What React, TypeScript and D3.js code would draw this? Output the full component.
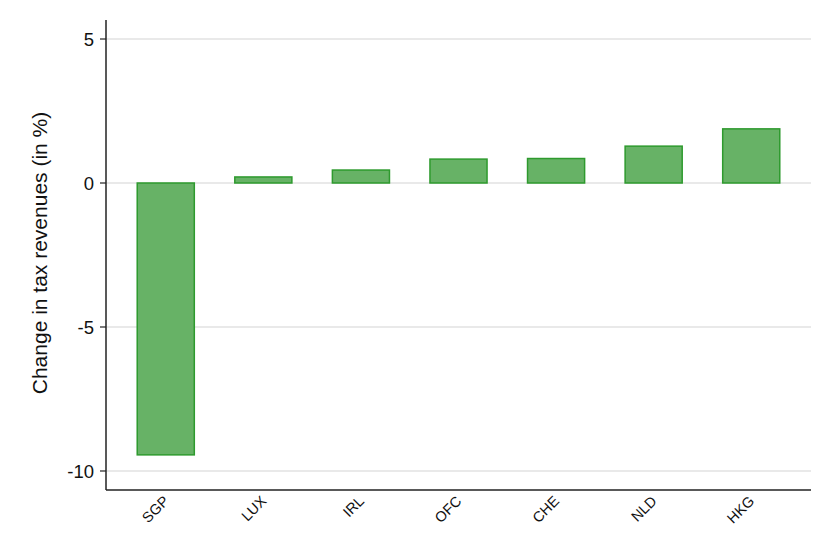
import React from 'react';
import * as d3 from 'd3';

const countries = ['SGP', 'LUX', 'IRL', 'OFC', 'CHE', 'NLD', 'HKG'];
const changes = [-9.44, 0.21, 0.45, 0.83, 0.85, 1.28, 1.88];
const yTicks = [5, 0, -5, -10];

export default function App() {
  const width = 830;
  const height = 554;
  const left = 106;
  const right = 811;
  const top = 20;
  const bottom = 490;

  const x = d3.scaleBand<string>()
    .domain(countries)
    .range([left, right])
    .paddingInner(0.415)
    .paddingOuter(0.32);

  const y = d3.scaleLinear()
    .domain([-10.66, 5.66])
    .range([bottom, top]);

  const font = '"Liberation Sans", Arial, Helvetica, sans-serif';

  return (
    <svg width={width} height={height} style={{ position: 'absolute', left: 0, top: 0 }}>
      <rect x={0} y={0} width={width} height={height} fill="#fff" />
      {yTicks.map(t => (
        <g key={'g' + t}>
          <line x1={left} x2={right} y1={y(t)} y2={y(t)} stroke="#d4d4d4" strokeWidth={1.2} />
          <line x1={left - 6} x2={left} y1={y(t)} y2={y(t)} stroke="#222" strokeWidth={1.2} />
          <text x={left - 12} y={y(t)} dy="0.36em" textAnchor="end" fontSize={18.5} fontFamily={font} fill="#111">
            {t}
          </text>
        </g>
      ))}
      {countries.map((c, i) => {
        const v = changes[i];
        const y0 = y(Math.max(0, v));
        const y1 = y(Math.min(0, v));
        return (
          <rect
            key={c}
            x={x(c)}
            y={y0}
            width={x.bandwidth()}
            height={y1 - y0}
            fill="#67b266"
            stroke="#2e9a2e"
            strokeWidth={1.5}
          />
        );
      })}
      <line x1={left} x2={left} y1={top} y2={bottom} stroke="#222" strokeWidth={1.5} />
      <line x1={left} x2={right} y1={bottom} y2={bottom} stroke="#222" strokeWidth={1.5} />
      {countries.map(c => {
        const cx = (x(c) as number) + x.bandwidth() / 2 + 4;
        const cy = bottom + 12;
        return (
          <text
            key={'l' + c}
            x={cx}
            y={cy}
            textAnchor="end"
            fontSize={14.5}
            fontFamily={font}
            fill="#111"
            transform={`rotate(-45, ${cx}, ${cy})`}
          >
            {c}
          </text>
        );
      })}
      <text
        transform={`translate(47, 253) rotate(-90)`}
        textAnchor="middle"
        fontSize={21}
        fontFamily={font}
        fill="#111"
      >
        Change in tax revenues (in %)
      </text>
    </svg>
  );
}
